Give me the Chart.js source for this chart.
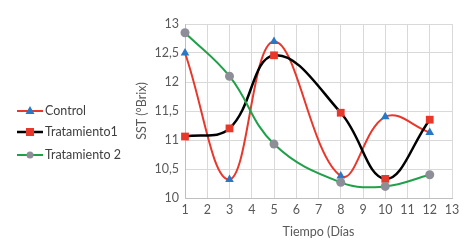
<!DOCTYPE html>
<html><head><meta charset="utf-8">
<script src="https://cdn.jsdelivr.net/npm/chart.js@4/dist/chart.umd.min.js"></script>
<style>html,body{margin:0;padding:0;background:#fff}#wrap{width:470px;height:244px;position:relative}</style>
</head><body><div id="wrap"><canvas id="c" width="470" height="244"></canvas></div>
<script>
const days = [1, 3, 5, 8, 10, 12];
const seriesNames = ['Control', 'Tratamiento1', 'Tratamiento 2'];
const control = [12.5, 10.32, 12.7, 10.38, 11.4, 11.13];
const tratamiento1 = [11.06, 11.2, 12.46, 11.47, 10.33, 11.35];
const tratamiento2 = [12.85, 12.1, 10.93, 10.27, 10.2, 10.4];
const yTicks = [10, 10.5, 11, 11.5, 12, 12.5, 13];
const xTicks = [1,2,3,4,5,6,7,8,9,10,11,12,13];
const xTitle = 'Tiempo (Días';
const yTitle = 'SST (°Brix)';

const FONT = "Lato, 'Open Sans', sans-serif";
const FS = 12.5;
const pts = arr => days.map((d, i) => ({x: d, y: arr[i]}));

const styles = [
  {line:'#e8382c', fill:'#2878c8', shape:'triangle', r:5, w:2},
  {line:'#000000', fill:'#e8382c', shape:'rect', r:5.5, w:2.5},
  {line:'#21a04a', fill:'#8e8e98', shape:'circle', r:4.5, w:2}
];
const data = [control, tratamiento1, tratamiento2];

const legendPlugin = {
  id: 'sideLegend',
  afterDraw(chart) {
    const ctx = chart.ctx;
    const ys = [111, 132, 155];
    ctx.save();
    seriesNames.forEach((name, i) => {
      const s = styles[i];
      const y = ys[i];
      ctx.strokeStyle = s.line; ctx.lineWidth = s.w;
      ctx.beginPath(); ctx.moveTo(17, y); ctx.lineTo(43, y); ctx.stroke();
      ctx.fillStyle = s.fill;
      ctx.beginPath();
      if (s.shape === 'circle') { ctx.arc(30, y, 3.5, 0, Math.PI*2); }
      else if (s.shape === 'rect') { ctx.rect(26, y-4, 8, 8); }
      else { ctx.moveTo(30, y-5); ctx.lineTo(34.5, y+3); ctx.lineTo(25.5, y+3); ctx.closePath(); }
      ctx.fill();
      ctx.fillStyle = '#404040';
      ctx.font = FS + 'px ' + FONT;
      ctx.textBaseline = 'middle';
      ctx.fillText(name, 45, y);
    });
    ctx.restore();
  }
};

new Chart(document.getElementById('c'), {
  type: 'line',
  data: {
    datasets: data.map((arr, i) => ({
      label: seriesNames[i],
      data: pts(arr),
      borderColor: styles[i].line,
      borderWidth: styles[i].w,
      backgroundColor: styles[i].fill,
      pointBackgroundColor: styles[i].fill,
      pointBorderWidth: 0,
      pointStyle: styles[i].shape,
      pointRadius: styles[i].r,
      tension: 0.4,
      fill: false,
      clip: false,
      order: 2 - i
    }))
  },
  options: {
    responsive: false,
    animation: false,
    layout: {padding: {left: 130, right: 18, top: 24, bottom: 0}},
    plugins: {legend: {display: false}, tooltip: {enabled: false}},
    scales: {
      x: {
        type: 'linear', min: 1, max: 13,
        afterBuildTicks: s => { s.ticks = xTicks.map(v => ({value: v})); },
        afterFit: s => { s.height = 46; },
        ticks: {color: '#595959', font: {family: FONT, size: FS}, padding: 4},
        grid: {color: '#d9d9d9', lineWidth: 1, drawTicks: false},
        border: {color: '#bfbfbf'},
        title: {display: true, text: xTitle, color: '#595959', font: {family: FONT, size: FS}, padding: {top: 4, bottom: 5}}
      },
      y: {
        min: 10, max: 13,
        afterBuildTicks: s => { s.ticks = yTicks.map(v => ({value: v})); },
        afterFit: s => { s.width = 55; },
        ticks: {color: '#595959', font: {family: FONT, size: FS}, padding: 6,
          callback: v => String(v).replace('.', ',')},
        grid: {color: '#d9d9d9', lineWidth: 1, drawTicks: false},
        border: {color: '#bfbfbf'},
        title: {display: true, text: yTitle, color: '#595959', font: {family: FONT, size: FS}, padding: {top: 4, bottom: 4}}
      }
    }
  },
  plugins: [legendPlugin]
});
</script></body></html>
